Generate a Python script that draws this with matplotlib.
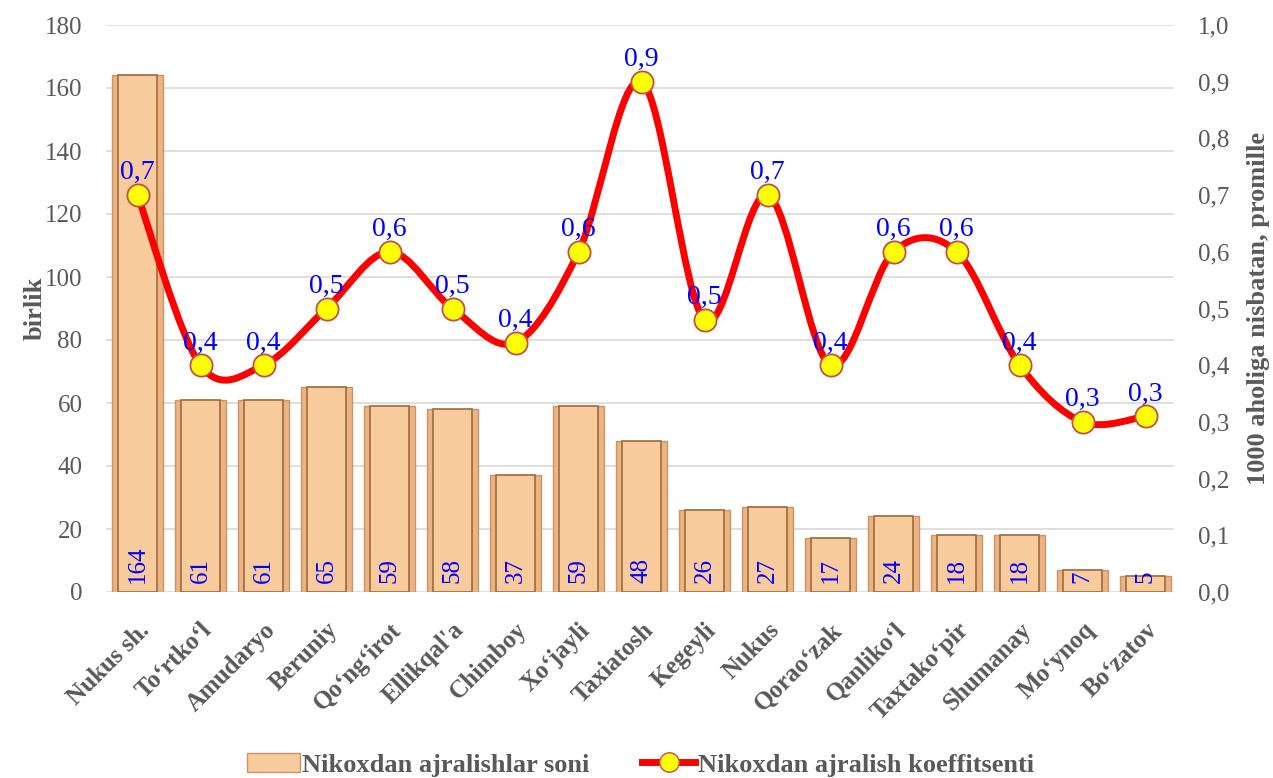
import numpy as np
import matplotlib.pyplot as plt
import matplotlib.transforms as mtransforms
from matplotlib.path import Path
from matplotlib.patches import PathPatch, Patch
from matplotlib.lines import Line2D

plt.rcParams['font.family'] = ['Liberation Serif', 'DejaVu Serif']

districts = ['Nukus sh.', 'To‘rtko‘l', 'Amudaryo', 'Beruniy', 'Qo‘ng‘irot', "Ellikqal'a",
             'Chimboy', 'Xo‘jayli', 'Taxiatosh', 'Kegeyli', 'Nukus', 'Qorao‘zak',
             'Qanliko‘l', 'Taxtako‘pir', 'Shumanay', 'Mo‘ynoq', 'Bo‘zatov']
divorces = [164, 61, 61, 65, 59, 58, 37, 59, 48, 26, 27, 17, 24, 18, 18, 7, 5]
coef = [0.70, 0.40, 0.40, 0.50, 0.60, 0.50, 0.44, 0.60, 0.90, 0.48, 0.70, 0.40,
        0.60, 0.60, 0.40, 0.30, 0.31]

gray = '#595959'
x = np.arange(len(districts))

fig = plt.figure(figsize=(12.73, 7.78), dpi=100)
ax = fig.add_axes([106/1273, 1-592/778, (1174-106)/1273, (592-25)/778])
ax2 = ax.twinx()

# bars with a simple bevel look
ax.bar(x, divorces, width=0.81, color='#EDB482', edgecolor='#C8956A', linewidth=1, zorder=2)
ax.bar(x, divorces, width=0.62, color='#F8CB9C', edgecolor='#9C6A3E', linewidth=1.2, zorder=3)
for xi, v in zip(x, divorces):
    ax.text(xi, 3, str(v), rotation=90, ha='center', va='bottom', color='blue',
            fontsize=18, zorder=4)

ax.set_ylim(0, 180)
ax.set_yticks(range(0, 181, 20))
ax.set_xlim(-0.5, 16.45)
ax.yaxis.grid(True, color='#D9D9D9', linewidth=1.2, zorder=0)
ax.set_axisbelow(True)
ax.set_xticks(x)
ax.set_xticklabels(districts, rotation=45, ha='right', rotation_mode='anchor',
                   fontsize=18, fontweight='bold', color=gray)
shift = mtransforms.ScaledTranslation(-19/72, 0, fig.dpi_scale_trans)
for lab in ax.get_xticklabels():
    lab.set_transform(lab.get_transform() + shift)
ax.tick_params(axis='x', length=0, pad=19)
ax.tick_params(axis='y', length=0, labelsize=18, labelcolor=gray, pad=17)
ax.set_ylabel('birlik', fontsize=19, fontweight='bold', color=gray, labelpad=-1)
for s in ax.spines.values():
    s.set_visible(False)
for s in ax2.spines.values():
    s.set_visible(False)

# smoothed line (Catmull-Rom style bezier through the points)
pts = np.column_stack([x, coef]).astype(float)
verts = [tuple(pts[0])]
codes = [Path.MOVETO]
n = len(pts)
for i in range(n - 1):
    p0 = pts[max(i - 1, 0)]
    p1 = pts[i]
    p2 = pts[i + 1]
    p3 = pts[min(i + 2, n - 1)]
    c1 = p1 + (p2 - p0) / 6
    c2 = p2 - (p3 - p1) / 6
    verts += [tuple(c1), tuple(c2), tuple(p2)]
    codes += [Path.CURVE4] * 3
ax2.add_patch(PathPatch(Path(verts, codes), facecolor='none', edgecolor='red',
                        linewidth=5, zorder=5, capstyle='round'))
ax2.plot(x, coef, linestyle='none', marker='o', markersize=16,
         markerfacecolor='yellow', markeredgecolor='#C0504D', markeredgewidth=1.3, zorder=6)
for xi, v in zip(x, coef):
    ax2.annotate(f'{v:.1f}'.replace('.', ','), (xi, v), xytext=(0, 7),
                 textcoords='offset points', ha='center', va='bottom',
                 color='blue', fontsize=20, zorder=7)

ax2.set_ylim(0, 1.0)
ax2.set_yticks(np.arange(0, 1.01, 0.1))
ax2.set_yticklabels([f'{t:.1f}'.replace('.', ',') for t in np.arange(0, 1.01, 0.1)])
ax2.tick_params(axis='y', length=0, labelsize=18, labelcolor=gray, pad=17)
ax2.set_ylabel('1000 aholiga nisbatan, promille', fontsize=19, fontweight='bold',
               color=gray, labelpad=13)

handles = [Patch(facecolor='#F8CB9C', edgecolor='#C8956A'),
           Line2D([0], [0], color='red', linewidth=5, marker='o', markersize=14,
                  markerfacecolor='yellow', markeredgecolor='#C0504D')]
fig.legend(handles, ['Nikoxdan ajralishlar soni', 'Nikoxdan ajralish koeffitsenti'],
           loc='lower center', bbox_to_anchor=(0.503, 0.0), ncol=2, frameon=False,
           prop={'size': 19, 'weight': 'bold'}, labelcolor=gray, handlelength=2.0,
           handletextpad=0.1, columnspacing=2.0, borderpad=0.05, borderaxespad=0)

fig.savefig('out.png', dpi=100)
